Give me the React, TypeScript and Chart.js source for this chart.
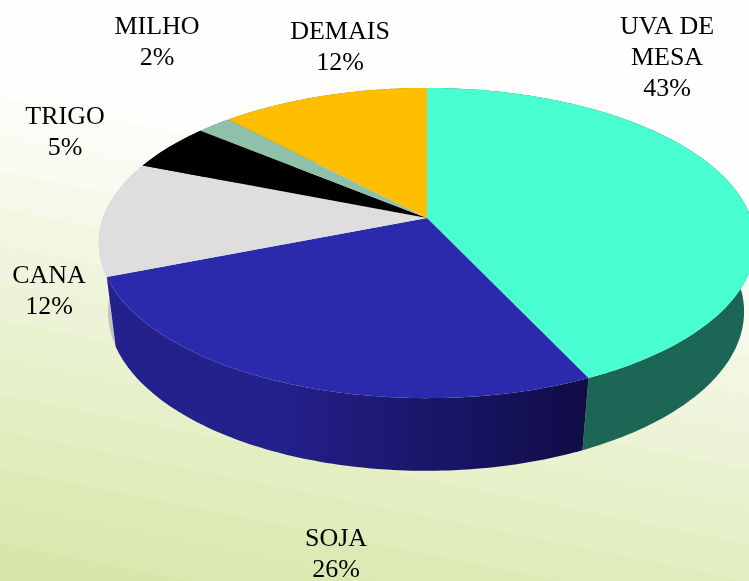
import React, { useEffect, useRef } from "react";
import { Chart, registerables } from "chart.js";

Chart.register(...registerables);

const categories = ["UVA DE MESA", "SOJA", "CANA", "TRIGO", "MILHO", "DEMAIS"];
const labelLines = [["UVA DE", "MESA", "43%"], ["SOJA", "26%"], ["CANA", "12%"], ["TRIGO", "5%"], ["MILHO", "2%"], ["DEMAIS", "12%"]];
const shares = [43, 26, 12, 5, 2, 12];
const topColors = ["#49FFD1", "#2B2AAD", "#DEDEDE", "#000000", "#8FC0AA", "#FFBE00"];
const sideFrom = ["#1C6655", "#24208C", "#C4C4C4", "#000000", "#5A7A6C", "#A07800"];
const sideTo = ["#1C6655", "#0F0C46", "#ABABAB", "#000000", "#5A7A6C", "#A07800"];
const labelAnchors = [[667, 34], [336, 546], [49, 283], [65, 124], [157, 34], [340, 39]];
const LINE_HEIGHT = 31;

const K = 0.1613;
const TOP = { sx: 1.486, sy: 0.693, dx: 0, dy: 0 };
const BOTTOM = { sx: 1.44, sy: 0.711, dx: -1, dy: 68 };

type Face = typeof TOP;

function project(arc: any, angle: number, f: Face) {
  const t = angle + Math.PI / 2;
  const u = Math.sin(t);
  const v = -Math.cos(t);
  const w = 1 - K * v;
  return {
    x: arc.x + f.dx + (arc.outerRadius * f.sx * u) / w,
    y: arc.y + f.dy + (arc.outerRadius * f.sy * v) / w,
  };
}

function rim(arc: any, f: Face, reverse = false) {
  const pts = [];
  const n = Math.max(8, Math.ceil((arc.endAngle - arc.startAngle) * 60));
  for (let i = 0; i <= n; i++) {
    const a = arc.startAngle + ((arc.endAngle - arc.startAngle) * i) / n;
    pts.push(project(arc, a, f));
  }
  return reverse ? pts.reverse() : pts;
}

const pie3d = {
  id: "pie3d",
  beforeDraw(chart: any) {
    const { ctx, width, height } = chart;
    const g = ctx.createLinearGradient(0, 60, -100, 560);
    const steps = 14;
    const from = [255, 255, 255];
    const to = [214, 230, 166];
    for (let i = 0; i < steps; i++) {
      const m = (i + 0.5) / steps;
      const c = `rgb(${from.map((a, j) => Math.round(a + (to[j] - a) * m)).join(",")})`;
      g.addColorStop(i / steps, c);
      g.addColorStop((i + 1) / steps, c);
    }
    ctx.save();
    ctx.fillStyle = "#fff";
    ctx.fillRect(0, 0, width, height);
    ctx.fillStyle = g;
    ctx.fillRect(0, 0, width, height);
    ctx.restore();
  },
  beforeDatasetDraw(chart: any, args: any) {
    const { ctx } = chart;
    const arcs = chart.getDatasetMeta(args.index).data;
    const colors = chart.data.datasets[args.index].backgroundColor;
    ctx.save();
    // side walls, rear slices first
    [5, 4, 3, 2, 0, 1].forEach((i) => {
      const arc = arcs[i];
      const top = rim(arc, TOP);
      const bottom = rim(arc, BOTTOM, true);
      const xs = top.concat(bottom).map((p) => p.x);
      const g = ctx.createLinearGradient(Math.min(...xs), 0, Math.max(...xs), 0);
      g.addColorStop(0, sideFrom[i]);
      g.addColorStop(0.35, sideFrom[i]);
      g.addColorStop(1, sideTo[i]);
      ctx.beginPath();
      top.concat(bottom).forEach((p, j) => (j ? ctx.lineTo(p.x, p.y) : ctx.moveTo(p.x, p.y)));
      ctx.closePath();
      ctx.fillStyle = g;
      ctx.fill();
    });
    // upper faces
    arcs.forEach((arc: any, i: number) => {
      ctx.beginPath();
      ctx.moveTo(arc.x, arc.y);
      rim(arc, TOP).forEach((p) => ctx.lineTo(p.x, p.y));
      ctx.closePath();
      ctx.fillStyle = colors[i];
      ctx.fill();
    });
    ctx.restore();
    return false;
  },
  afterDraw(chart: any) {
    const { ctx } = chart;
    ctx.save();
    ctx.fillStyle = "#000";
    ctx.font = '26px "Liberation Serif"';
    ctx.textAlign = "center";
    ctx.textBaseline = "alphabetic";
    labelLines.forEach((lines, i) => {
      lines.forEach((line, j) => {
        ctx.fillText(line, labelAnchors[i][0], labelAnchors[i][1] + j * LINE_HEIGHT);
      });
    });
    ctx.restore();
  },
};

export default function App() {
  const ref = useRef<HTMLCanvasElement>(null);
  useEffect(() => {
    document.body.style.margin = "0";
    const chart = new Chart(ref.current!, {
      type: "pie",
      data: {
        labels: categories,
        datasets: [{ data: shares, backgroundColor: topColors, borderWidth: 0 }],
      },
      options: {
        responsive: false,
        animation: false,
        layout: { padding: { left: 105, right: 0, top: 0, bottom: 145 } },
        plugins: { legend: { display: false }, tooltip: { enabled: false } },
      },
      plugins: [pie3d],
    } as any);
    return () => chart.destroy();
  }, []);
  return <canvas ref={ref} width={749} height={581} style={{ display: "block" }} />;
}
